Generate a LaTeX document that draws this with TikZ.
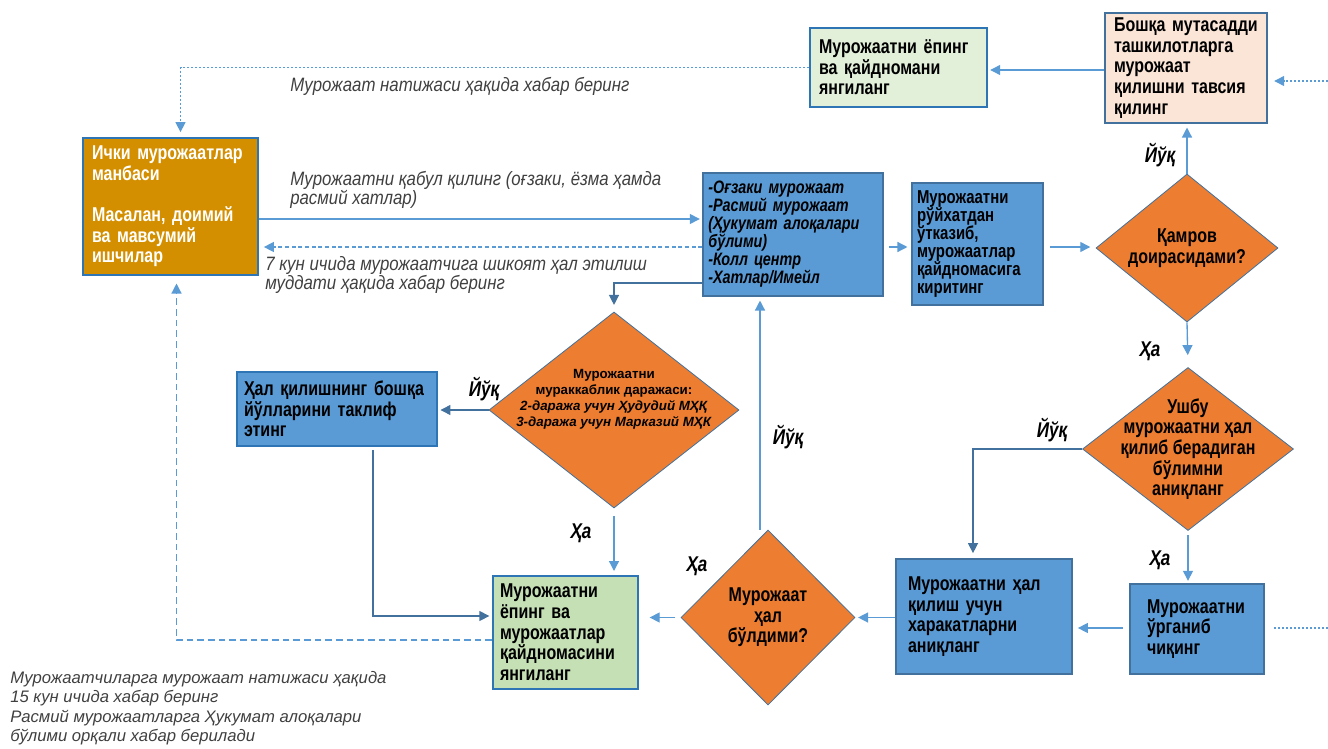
\documentclass[tikz,border=0pt]{standalone}
\usepackage{fontspec}
\setmainfont{Liberation Sans}
\newfontfamily\narrowfont{Liberation Sans}[FakeStretch=0.8]
\newfontfamily\notefont{Liberation Sans}[FakeStretch=0.87]
\usetikzlibrary{shapes.geometric,arrows.meta,calc}

\definecolor{boxblue}{HTML}{5B9BD5}
\definecolor{boxedge}{HTML}{41719C}
\definecolor{diaorange}{HTML}{ED7D31}
\definecolor{srcgold}{HTML}{D48F00}
\definecolor{palegreen}{HTML}{E2F0D9}
\definecolor{midgreen}{HTML}{C5E0B4}
\definecolor{peach}{HTML}{FBE5D6}
\definecolor{linkblue}{HTML}{5B9BD5}
\definecolor{linkdark}{HTML}{41719C}
\definecolor{edgeblue}{HTML}{2E75B6}
\definecolor{notegray}{HTML}{404040}

\tikzstyle{box}=[draw=boxedge,line width=0.8pt,rectangle,inner xsep=6.75pt,inner ysep=1pt,align=left,
  font=\narrowfont\bfseries\fontsize{15}{15.5}\selectfont]
\tikzstyle{bluebox}=[box,fill=boxblue]
\tikzstyle{decision}=[diamond,draw=boxedge,line width=0.6pt,fill=diaorange,inner sep=0pt]
\tikzstyle{dtext}=[align=center,font=\narrowfont\bfseries\fontsize{15}{15.5}\selectfont]
\tikzstyle{answer}=[font=\narrowfont\bfseries\itshape\fontsize{16}{16}\selectfont]
\tikzstyle{note}=[anchor=west,align=left,inner xsep=0pt,text=notegray,font=\notefont\itshape\fontsize{14.5}{14.5}\selectfont]
\tikzstyle{flow}=[draw=linkblue,line width=1pt,-{Triangle[length=7.5pt,width=7.5pt]},shorten >=2pt]
\tikzstyle{flowdark}=[flow,draw=linkdark]
\tikzstyle{dotflow}=[flow,dash pattern=on 1.5pt off 1.5pt]
\tikzstyle{dashflow}=[flow,dash pattern=on 3pt off 2pt]
\tikzstyle{dotline}=[draw=linkblue,line width=1pt,dash pattern=on 1.5pt off 1.5pt]
\newcommand{\pxscale}{0.75pt}

\begin{document}
\begin{tikzpicture}[x=\pxscale, y=-\pxscale]
    \useasboundingbox (0,0) rectangle (1328,749);

    % First the boxes
    \node[box,fill=srcgold,text=white,draw=edgeblue,minimum width=131.25pt,minimum height=102.75pt,text width=117.75pt]
        (src) at (170.5,206.5) {Ички мурожаатлар\\манбаси\\[15.5pt]Масалан, доимий\\ва мавсумий\\ишчилар};
    \node[box,fill=palegreen,draw=edgeblue,minimum width=132.75pt,minimum height=59.25pt,text width=119.25pt]
        (closetop) at (898.5,67.5) {Мурожаатни ёпинг\\ва қайдномани\\янгиланг};
    \node[box,fill=peach,minimum width=121.5pt,minimum height=82.5pt,text width=108pt]
        (advise) at (1186,68) {Бошқа мутасадди\\ташкилотларга\\мурожаат\\қилишни тавсия\\қилинг};
    \node[bluebox,inner xsep=4pt,minimum width=135pt,minimum height=92.25pt,text width=127pt,
        font=\narrowfont\bfseries\itshape\fontsize{13.5}{13.5}\selectfont]
        (channels) at (793,234.5) {-Оғзаки мурожаат\\-Расмий мурожаат\\(Ҳукумат алоқалари\\бўлими)\\-Колл центр\\-Хатлар/Имейл};
    \node[bluebox,inner xsep=3.75pt,minimum width=98.25pt,minimum height=91.5pt,text width=90.75pt,
        font=\narrowfont\bfseries\fontsize{14}{13.5}\selectfont]
        (register) at (977.5,244) {Мурожаатни\\рўйхатдан\\ўтказиб,\\мурожаатлар\\қайдномасига\\киритинг};
    \node[bluebox,inner xsep=12.75pt,minimum width=100.5pt,minimum height=67.5pt,text width=75pt]
        (study) at (1197,629) {Мурожаатни\\ўрганиб\\чиқинг};
    \node[bluebox,inner xsep=9pt,minimum width=132pt,minimum height=86.25pt,text width=114pt]
        (actions) at (984,616.5) {Мурожаатни ҳал\\қилиш учун\\харакатларни\\аниқланг};
    \node[box,fill=midgreen,draw=edgeblue,line width=1.5pt,inner xsep=5.25pt,minimum width=108.75pt,minimum height=84.75pt,text width=98.25pt]
        (closebot) at (565.5,632.5) {Мурожаатни\\ёпинг ва\\мурожаатлар\\қайдномасини\\янгиланг};
    \node[bluebox,draw=edgeblue,line width=1.2pt,inner xsep=5.25pt,minimum width=150pt,minimum height=55.5pt,text width=139.5pt]
        (other) at (337,409) {Ҳал қилишнинг бошқа\\йўлларини таклиф\\этинг};

    % Then the decisions
    \node[decision,minimum width=136.5pt,minimum height=111pt,label={[dtext]center:Қамров\\доирасидами?}]
        (scope) at (1187,248) {};
    \node[decision,minimum width=158.25pt,minimum height=122.25pt,
        label={[dtext]center:Ушбу\\мурожаатни ҳал\\қилиб берадиган\\бўлимни\\аниқланг}]
        (dept) at (1188,449) {};
    \node[decision,minimum width=130.5pt,minimum height=131.25pt,label={[dtext]center:Мурожаат\\ҳал\\бўлдими?}]
        (solved) at (768,617.5) {};
    \node[decision,minimum width=187.5pt,minimum height=147pt,
        label={[align=center,yshift=8pt,font=\bfseries\fontsize{10}{12}\selectfont]center:Мурожаатни\\мураккаблик даражаси:\\\textit{2-даража учун Ҳудудий МҲҚ}\\\textit{3-даража учун Марказий МҲК}}]
        (level) at (614,410) {};

    % Answers on the branches
    \foreach \pos/\name/\txt in {{(1160,155)/noA/Йўқ}, {(1150,351)/yesA/Ҳа}, {(1052,430)/noB/Йўқ}, {(1160,560)/yesB/Ҳа},
        {(788,437)/noC/Йўқ}, {(697,566)/yesC/Ҳа}, {(484,389)/noD/Йўқ}, {(581,533)/yesD/Ҳа}}
        \node[answer] (\name) at \pos {\txt};

    % Notes along the lines
    \node[note] (noteTop) at (290,86) {Мурожаат натижаси ҳақида хабар беринг};
    \node[note] (noteIn) at (290,190) {Мурожаатни қабул қилинг (оғзаки, ёзма ҳамда\\расмий хатлар)};
    \node[note] (noteBack) at (265,275) {7 кун ичида мурожаатчига шикоят ҳал этилиш\\муддати ҳақида хабар беринг};
    \node[note,font=\itshape\fontsize{12.5}{14.6}\selectfont] (noteBottom) at (10,708)
        {Мурожаатчиларга мурожаат натижаси ҳақида\\15 кун ичида хабар беринг\\Расмий мурожаатларга Ҳукумат алоқалари\\бўлими орқали хабар берилади};

    % Connect the boxes
    \coordinate (inAdvise) at (1328,81);
    \coordinate (inStudy) at (1328,628);
    \draw[dotflow,shorten >=4pt] (closetop.west) -| ($(src.north)+(10,0)$);
    \draw[flow] (src.east |- 0,219) -- (channels.west |- 0,219);
    \draw[dashflow,shorten >=4pt] (channels.west |- 0,247) -- (src.east |- 0,247);
    \draw[flowdark,shorten >=5pt] (channels.west |- 0,283) -| (level.north);
    \draw[flow,shorten <=4pt,shorten >=3pt] (channels.east |- 0,247) -- (register.west |- 0,247);
    \draw[flow,shorten <=5pt,shorten >=4pt] (register.east |- 0,247) -- (scope.west |- 0,247);
    \draw[flow,shorten >=3pt] (scope.north) -- (scope.north |- advise.south);
    \draw[flow] (advise.west |- 0,70) -- (closetop.east |- 0,70);
    \draw[dotflow,shorten >=5pt] (inAdvise) -- (advise.east |- inAdvise);
    \draw[flow,shorten >=9pt] (scope.south) -- (dept.north);
    \draw[flowdark,shorten >=4pt] (dept.west) -| ($(actions.north)+(-11,0)$);
    \draw[flow,shorten <=3pt] (dept.south) -- (dept.south |- study.north);
    \draw[dotline,shorten >=7pt] (inStudy) -- (study.east |- inStudy);
    \draw[flow,shorten <=5pt,shorten >=4pt] (study.west |- 0,628) -- (actions.east |- 0,628);
    \draw[flow,shorten >=2pt] (actions.west |- solved.east) -- (solved.east);
    \draw[flow,shorten >=3pt] ($(solved.north)+(-8,0)$) -- ($(solved.north |- channels.south)+(-8,0)$);
    \draw[flow,shorten <=4pt,shorten >=8pt] (solved.west) -- (closebot.east |- solved.west);
    \draw[flowdark] (level.west) -- (other.east |- level.west);
    \draw[flow,shorten <=6pt,shorten >=3pt] (level.south) -- (level.south |- closebot.north);
    \draw[flowdark] ($(other.south)+(36,3)$) |- (closebot.west |- 0,616);
    \draw[dashflow,dash pattern=on 5pt off 3pt,shorten >=6pt] (closebot.west |- 0,640) -| ($(src.south)+(6,0)$);
\end{tikzpicture}
\end{document}
